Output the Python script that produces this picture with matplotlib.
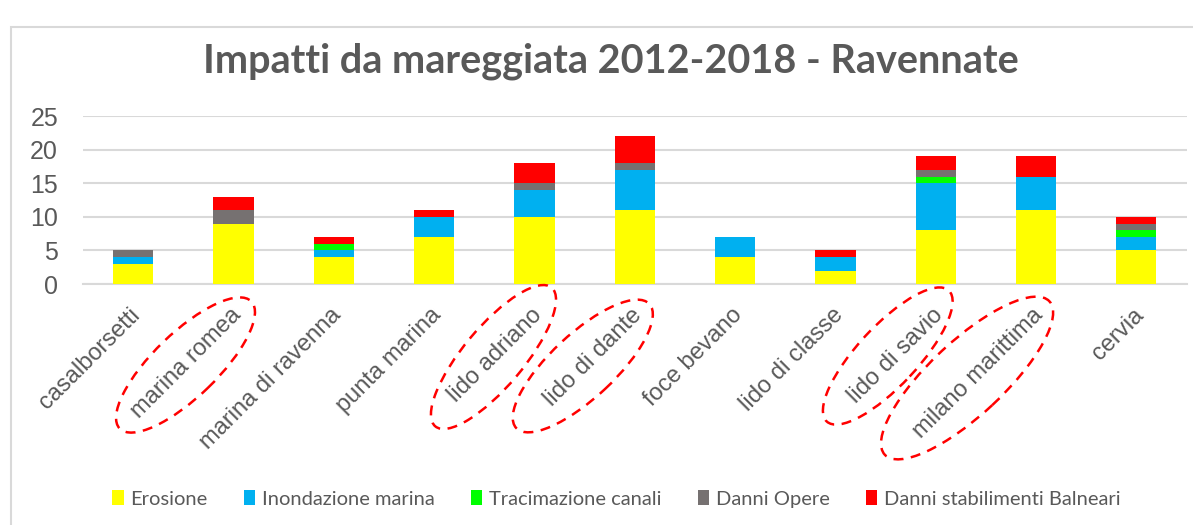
import matplotlib.pyplot as plt
from matplotlib.patches import Ellipse, Rectangle
from matplotlib.transforms import IdentityTransform, ScaledTranslation
import numpy as np

# Data (number of events per locality)
localities = ["casalborsetti", "marina romea", "marina di ravenna", "punta marina",
              "lido adriano", "lido di dante", "foce bevano", "lido di classe",
              "lido di savio", "milano marittima", "cervia"]
erosione = [3, 9, 4, 7, 10, 11, 4, 2, 8, 11, 5]
inondazione = [1, 0, 1, 3, 4, 6, 3, 2, 7, 5, 2]
tracimazione = [0, 0, 1, 0, 0, 0, 0, 0, 1, 0, 1]
danni_opere = [1, 2, 0, 0, 1, 1, 0, 0, 1, 0, 1]
danni_balneari = [0, 2, 1, 1, 3, 4, 0, 1, 2, 3, 1]

series_names = ["Erosione", "Inondazione marina", "Tracimazione canali",
                "Danni Opere", "Danni stabilimenti Balneari"]
series_colors = ["#FFFF00", "#00B0F0", "#00FF00", "#767171", "#FF0000"]

# localities circled in red on the original
circled = ["marina romea", "lido adriano", "lido di dante", "lido di savio", "milano marittima"]

# hand-drawn ellipse geometry in pixels: x offset from bar, centre y, long, short, angle
ELLIPSE_GEOM = {
    "marina romea": (-48, 160, 183, 64, 44),
    "lido adriano": (-41, 168, 181, 60, 50),
    "lido di dante": (-52, 159, 182, 64, 43),
    "lido di savio": (-48, 169, 179, 60, 47),
    "milano marittima": (-69, 147, 225, 74, 43),
}

TITLE_FONT = ["Lato", "DejaVu Sans"]
TEXT_GRAY = "#595959"

fig = plt.figure(figsize=(11.93, 5.25), dpi=100)
ax = fig.add_axes([0.0696, 0.459, 0.925, 0.32])

x = np.arange(len(localities))
bottom = np.zeros(len(localities))
for name, vals, col in zip(series_names,
                           [erosione, inondazione, tracimazione, danni_opere, danni_balneari],
                           series_colors):
    ax.bar(x, vals, bottom=bottom, width=0.4, color=col, label=name, zorder=3)
    bottom += np.array(vals)

ax.set_xlim(-0.5, len(localities) - 0.5)
ax.set_ylim(0, 25)
ax.set_yticks(range(0, 26, 5))
ax.yaxis.grid(True, color="#d9d9d9", linewidth=1.5, zorder=0)
for s in ["top", "right", "left"]:
    ax.spines[s].set_visible(False)
ax.spines["bottom"].set_color("#d9d9d9")
ax.spines["bottom"].set_linewidth(1.5)
ax.tick_params(axis="both", length=0, colors=TEXT_GRAY)
ax.tick_params(axis="y", labelsize=18, pad=18)
ax.tick_params(axis="x", pad=20)
ax.set_xticks(x)
ax.set_xticklabels(localities, rotation=45, ha="right", va="center", rotation_mode="anchor",
                   fontsize=17, family="Liberation Sans")
shift = ScaledTranslation(4 / 100, 0, fig.dpi_scale_trans)
for t in ax.get_xticklabels():
    t.set_transform(t.get_transform() + shift)
for t in ax.get_yticklabels():
    t.set_family("Liberation Sans")

fig.text(0.512, 0.861, "Impatti da mareggiata 2012-2018 - Ravennate", ha="center", va="baseline",
         fontsize=28.5, fontweight="bold", color=TEXT_GRAY, family=TITLE_FONT)

leg = fig.legend(loc="center", bbox_to_anchor=(0.517, 0.05), ncol=5, frameon=False,
                 handlelength=0.55, handleheight=0.8, handletextpad=0.35, columnspacing=1.8,
                 prop={"family": TITLE_FONT, "size": 14.5})
for t in leg.get_texts():
    t.set_color(TEXT_GRAY)

# outer chart border
fig.patches.append(Rectangle((11, -5), 1300, 503, transform=IdentityTransform(),
                             fill=False, edgecolor="#d9d9d9", linewidth=1.5))

# red dashed ellipses around some labels (drawn in pixel space so the angle stays true)
fig.canvas.draw()
for name in circled:
    i = localities.index(name)
    bx, _ = ax.transData.transform((i, 0))
    dx, cy, w, h, ang = ELLIPSE_GEOM[name]
    fig.patches.append(Ellipse((bx + dx, cy), w, h, angle=ang, transform=IdentityTransform(),
                               fill=False, edgecolor="#FF0000", linestyle=(0, (4, 3)),
                               linewidth=1.8, zorder=5))

fig.savefig("out.png", dpi=100)
